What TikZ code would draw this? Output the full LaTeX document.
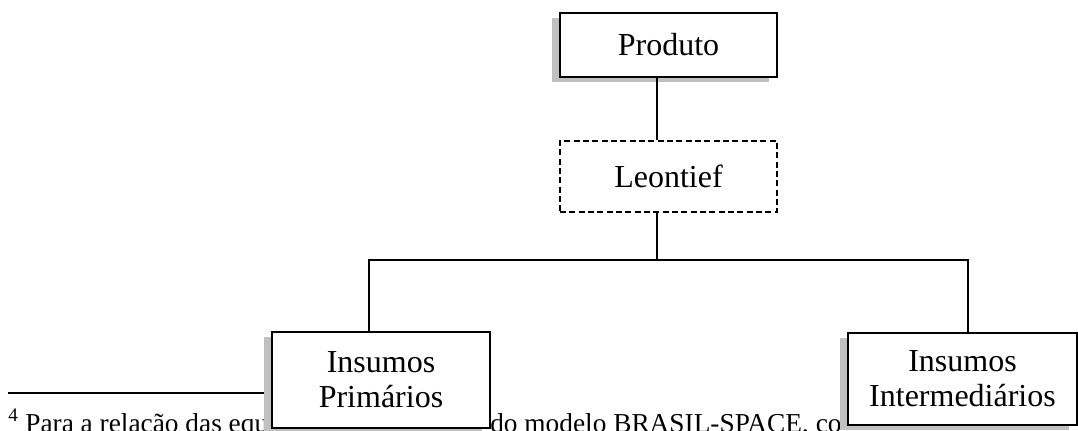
\documentclass[tikz,border=0pt]{standalone}
\usepackage{fontspec}
\setmainfont{Liberation Serif}
\usetikzlibrary{shadows}
\definecolor{shadowgray}{RGB}{192,192,192}

\begin{document}
\begin{tikzpicture}[x = 0.75pt, y = -0.75pt,
	box/.style = {draw, line width = 1.6pt, fill = white, align = center, inner sep = 0pt, font = \fontsize{24}{26.5}\selectfont},
	shadowbox/.style = {box, general shadow = {shadow xshift = -6pt, shadow yshift = -3.75pt, fill = shadowgray}},
	note/.style = {anchor = base west, inner sep = 0pt, font = \fontsize{20.5}{24}\selectfont},
	link/.style = {line width = 1.6pt}]
	\useasboundingbox (0,0) rectangle (1078,431);
	
	% footnote
	\draw[line width = 1.6pt] (8,393) -- (265,393);
	\node[note] (fnleft) at (8,432) {\textsuperscript{4} Para a relação das equa};
	\node[note] (fnright) at (490,432) {do modelo BRASIL-SPACE, co};
	
	% boxes
	\node[shadowbox, minimum width = 162.75pt, minimum height = 48pt] (prod) at (668.5,45) {Produto};
	\node[box, dashed, dash pattern = on 4.5pt off 2.5pt, minimum width = 162.75pt, minimum height = 53.25pt] (leon) at (668.5,176.5) {Leontief};
	\node[shadowbox, minimum width = 163.5pt, minimum height = 72pt] (prim) at (381,380) {Insumos\\Primários};
	\node[shadowbox, minimum width = 171.75pt, minimum height = 69pt] (inter) at (962.5,379) {Insumos\\Intermediários};
	
	% links
	\coordinate (trunk) at (657,260);
	\coordinate (left) at (369,260);
	\coordinate (right) at (968,260);
	\draw[link] (prod.south -| trunk) -- (leon.north -| trunk);
	\draw[link] (leon.south -| trunk) -- (trunk);
	\draw[link] (prim.north -| left) -- (left) -- (right) -- (inter.north -| right);
	
\end{tikzpicture}
\end{document}
